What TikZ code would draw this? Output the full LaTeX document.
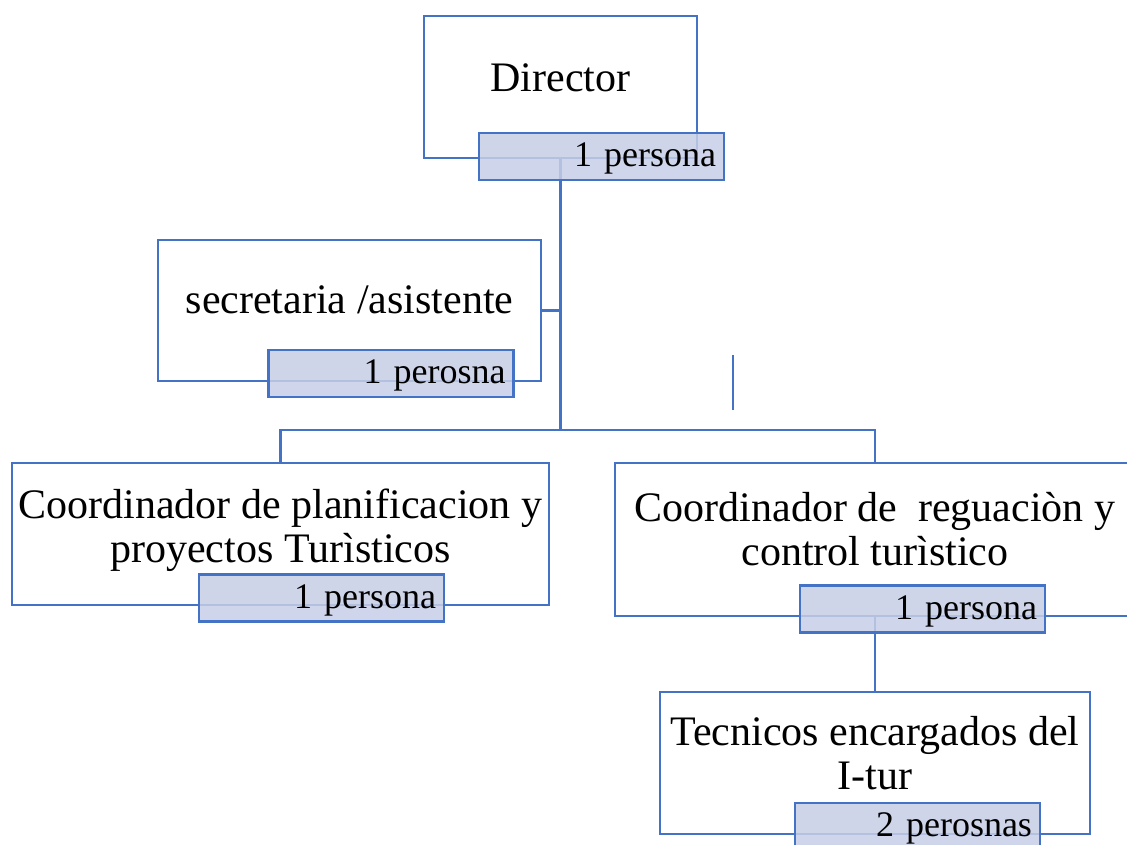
\documentclass[tikz,border=0pt]{standalone}
\usepackage{fontspec}
\setmainfont{Liberation Serif}
\definecolor{orgblue}{HTML}{4472C4}
\definecolor{countfill}{RGB}{199,206,230}

\begin{document}
\begin{tikzpicture}[x=1pt,y=-1pt,
  unitbox/.style={rectangle, draw=orgblue, line width=2.8pt, fill=white, inner sep=0pt},
  unittext/.style={font=\fontsize{42}{44}\selectfont, align=center, anchor=base, inner sep=0pt},
  countbox/.style={rectangle, draw=orgblue, line width=2.8pt, fill=countfill, fill opacity=0.85, text opacity=1,
    minimum width=245pt, minimum height=47pt, inner xsep=8pt, inner ysep=0pt, text width=229pt,
    align=right, text height=20pt, text depth=0pt, font=\fontsize{36}{40}\selectfont},
  link/.style={draw=orgblue, line width=2.8pt}]
  \path[use as bounding box, clip] (0,0) rectangle (1127,845);

  \node[unitbox, minimum width=273pt, minimum height=142pt] (dir) at (560.5,87) {};
  \node[unitbox, minimum width=383pt, minimum height=141pt] (sec) at (349.5,310.5) {};
  \node[unitbox, minimum width=537pt, minimum height=142pt] (plan) at (280.5,534) {};
  \node[unitbox, minimum width=520pt, minimum height=153pt] (reg) at (875,539.5) {};
  \node[unitbox, minimum width=430pt, minimum height=142pt] (tec) at (875,763) {};

  \coordinate (hub) at (560.5,430);
  \draw[link] (dir.south) -- (hub);
  \draw[link] (sec.east) -- (sec.east -| hub);
  \draw[link] (plan.north) |- (hub) -| (reg.north);
  \draw[link] (reg.south) -- (tec.north);
  \coordinate (tick top) at (733,355);
  \coordinate (tick bot) at (733,410);
  \draw[draw=orgblue, line width=1.5pt] (tick top) -- (tick bot); % loose stroke

  \node[unittext] (dirt) at (560.5,92) {Director};
  \node[unittext] (sect) at (349.5,313) {secretaria /asistente};
  \node[unittext] (plant) at (280.5,562) {Coordinador de planificacion y\\proyectos Turìsticos};
  \node[unittext] (regt) at (875,565) {Coordinador de~ reguaciòn y\\control turìstico};
  \node[unittext] (tect) at (875,789) {Tecnicos encargados del\\I-tur};

  \foreach \nm/\x/\y/\t in {dirn/601.5/156.5/1 persona, secn/391/373.5/1 perosna,
      plann/321.5/598/1 persona, regn/922.5/609/1 persona, tecn/917.5/826.5/2 perosnas}
    \node[countbox] (\nm) at (\x,\y) {\t};
\end{tikzpicture}
\end{document}
